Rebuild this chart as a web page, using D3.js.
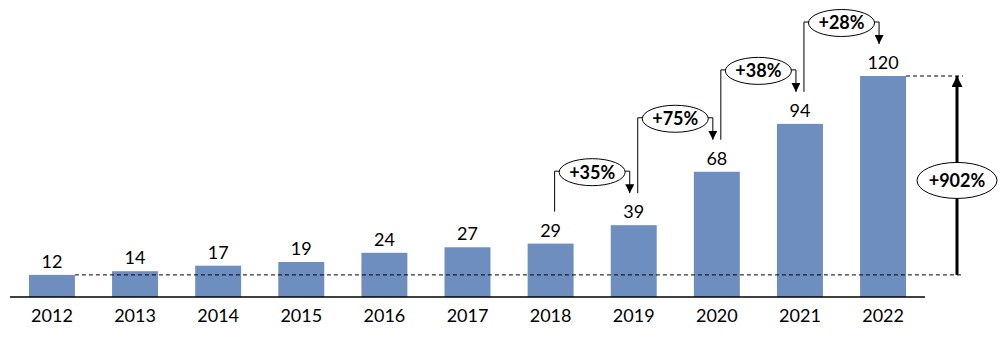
<!DOCTYPE html>
<html>
<head>
<meta charset="utf-8">
<script src="https://cdn.jsdelivr.net/npm/d3@7"></script>
<style>
  html, body { margin: 0; padding: 0; background: #fff; }
  svg { display: block; }
  text { font-family: Lato, "Open Sans", sans-serif; fill: #000; }
</style>
</head>
<body>
<svg id="chart" width="1007" height="340"></svg>
<script>
// Yearly totals
const years = ["2012","2013","2014","2015","2016","2017","2018","2019","2020","2021","2022"];
const values = [12, 14, 17, 19, 24, 27, 29, 39, 68, 94, 120];

// Year-over-year growth call-outs (from year -> to year)
const growthFrom = ["2018","2019","2020","2021"];
const growthTo   = ["2019","2020","2021","2022"];
const growthLabels = ["+35%","+75%","+38%","+28%"];

// Overall change first year -> last year
const totalLabel = "+902%";

const svg = d3.select("#chart");

const x = d3.scaleBand()
  .domain(years)
  .range([10, 925])
  .paddingInner(0.447)
  .paddingOuter(0.228);

const y = d3.scaleLinear()
  .domain([0, 120])
  .range([297, 76]);

const valueOf = new Map(years.map((yr, i) => [yr, values[i]]));
const cx = yr => x(yr) + x.bandwidth() / 2;
const barTop = yr => y(valueOf.get(yr));

// arrowheads
const defs = svg.append("defs");
defs.append("marker")
  .attr("id", "headSmall")
  .attr("viewBox", "0 0 10 10")
  .attr("refX", 10).attr("refY", 5)
  .attr("markerWidth", 9).attr("markerHeight", 9)
  .attr("markerUnits", "userSpaceOnUse")
  .attr("orient", "auto")
  .append("path").attr("d", "M0,0 L10,5 L0,10 Z").attr("fill", "#000");
defs.append("marker")
  .attr("id", "headBig")
  .attr("viewBox", "0 0 10 10")
  .attr("refX", 10).attr("refY", 5)
  .attr("markerWidth", 13).attr("markerHeight", 11)
  .attr("markerUnits", "userSpaceOnUse")
  .attr("orient", "auto")
  .append("path").attr("d", "M0,0 L10,5 L0,10 Z").attr("fill", "#000");

// bars
svg.append("g").selectAll("rect")
  .data(years)
  .join("rect")
  .attr("x", d => x(d))
  .attr("y", d => barTop(d))
  .attr("width", x.bandwidth())
  .attr("height", d => y(0) - barTop(d))
  .attr("fill", "#6d8ebf");

// value labels
svg.append("g").selectAll("text")
  .data(years)
  .join("text")
  .attr("x", d => cx(d))
  .attr("y", d => barTop(d) - 7)
  .attr("text-anchor", "middle")
  .attr("font-size", 18)
  .text(d => valueOf.get(d));

// x axis
const xAxis = d3.axisBottom(x).tickSize(0).tickPadding(12);
const gx = svg.append("g")
  .attr("transform", `translate(0,${y(0)})`)
  .call(xAxis);
gx.select(".domain").attr("stroke", "#000").attr("stroke-width", 1.5).attr("d", "M10,0H925");
gx.selectAll("text")
  .attr("font-size", 18)
  .attr("font-family", "Lato, sans-serif")
  .attr("fill", "#000");

// dashed reference lines at first and last values
const first = years[0], last = years[years.length - 1];
const arrowX = 957;
[first, last].forEach(yr => {
  svg.append("line")
    .attr("x1", x(yr) + x.bandwidth()).attr("x2", arrowX + 6)
    .attr("y1", barTop(yr)).attr("y2", barTop(yr))
    .attr("stroke", "#000").attr("stroke-width", 1).attr("stroke-dasharray", "4,3");
});

// total growth arrow
svg.append("line")
  .attr("x1", arrowX).attr("x2", arrowX)
  .attr("y1", barTop(first)).attr("y2", barTop(last))
  .attr("stroke", "#000").attr("stroke-width", 3)
  .attr("marker-end", "url(#headBig)");
const midY = (barTop(first) + barTop(last)) / 2 + 5;
svg.append("ellipse")
  .attr("cx", arrowX).attr("cy", midY)
  .attr("rx", 40).attr("ry", 18)
  .attr("fill", "#fff").attr("stroke", "#000").attr("stroke-width", 1);
svg.append("text")
  .attr("x", arrowX).attr("y", midY)
  .attr("dy", "0.36em")
  .attr("text-anchor", "middle")
  .attr("font-size", 18).attr("font-weight", "bold")
  .text(totalLabel);

// growth brackets
const gap = 32, lift = 54;
growthLabels.forEach((lab, i) => {
  const a = growthFrom[i], b = growthTo[i];
  const xa = cx(a) + 4, xb = cx(b) - 4;
  const yl = barTop(b) - lift;
  const g = svg.append("g");
  g.append("path")
    .attr("d", `M${xa},${barTop(a) - gap}V${yl}H${xb}V${barTop(b) - gap}`)
    .attr("fill", "none").attr("stroke", "#000").attr("stroke-width", 1)
    .attr("marker-end", "url(#headSmall)");
  const ex = (xa + xb) / 2;
  g.append("ellipse")
    .attr("cx", ex).attr("cy", yl + 1)
    .attr("rx", 33).attr("ry", 13.5)
    .attr("fill", "#fff").attr("stroke", "#000").attr("stroke-width", 1);
  g.append("text")
    .attr("x", ex).attr("y", yl + 1)
    .attr("dy", "0.36em")
    .attr("text-anchor", "middle")
    .attr("font-size", 18).attr("font-weight", "bold")
    .text(lab);
});
</script>
</body>
</html>
